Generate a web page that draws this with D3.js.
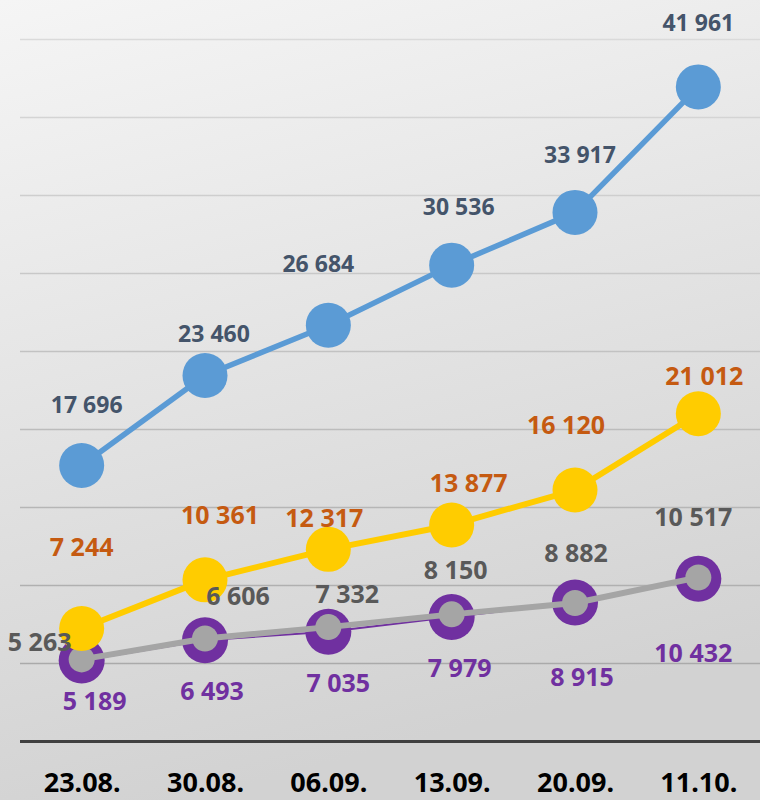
<!DOCTYPE html>
<html>
<head>
<meta charset="utf-8">
<script src="https://cdn.jsdelivr.net/npm/d3@7"></script>
<style>
  html, body { margin: 0; padding: 0; background: #e6e6e6; }
  svg { display: block; }
  text { font-family: "Noto Sans", "Open Sans", sans-serif; font-weight: 700; }
</style>
</head>
<body>
<svg id="chart"></svg>
<script>
/* chart data */
const dates = ["23.08.", "30.08.", "06.09.", "13.09.", "20.09.", "11.10."];
const blueValues   = [17696, 23460, 26684, 30536, 33917, 41961];
const yellowValues = [7244, 10361, 12317, 13877, 16120, 21012];
const grayValues   = [5263, 6606, 7332, 8150, 8882, 10517];
const purpleValues = [5189, 6493, 7035, 7979, 8915, 10432];
const gridTicks = [5000, 10000, 15000, 20000, 25000, 30000, 35000, 40000, 45000];

/* hand placed label offsets (label centre relative to marker), like in the original */
const blueNudge   = [[5,-61],[9,-42],[-10,-61],[7,-58],[5,-58],[0,-64]];
const yellowNudge = [[0,-81],[15,-65],[-4,-31],[17,-42],[-9,-65],[6,-38]];
const grayNudge   = [[-42,-17],[33,-42],[19,-33],[4,-44],[1,-50],[-5,-60]];
const purpleNudge = [[13,41],[7,51],[10,51],[8,51],[7,75],[-5,74]];

const width = 760, height = 800;
const plotLeft = 20, plotRight = 760, plotTop = 39.5, plotBottom = 741.5;

const svg = d3.select("#chart").attr("width", width).attr("height", height);
const defs = svg.append("defs");

/*background gradient*/
const bg = defs.append("linearGradient").attr("id", "bg")
    .attr("x1", 0).attr("y1", 0).attr("x2", 0.25).attr("y2", 1);
bg.append("stop").attr("offset", "0%").attr("stop-color", "#f5f5f5");
bg.append("stop").attr("offset", "100%").attr("stop-color", "#d2d2d2");

/*gridlines get darker towards the bottom*/
const gg = defs.append("linearGradient").attr("id", "grid")
    .attr("gradientUnits", "userSpaceOnUse")
    .attr("x1", 0).attr("y1", plotTop).attr("x2", 0).attr("y2", plotBottom);
gg.append("stop").attr("offset", "0%").attr("stop-color", "#dadada");
gg.append("stop").attr("offset", "100%").attr("stop-color", "#a4a4a4");

svg.append("rect").attr("width", width).attr("height", height).attr("fill", "url(#bg)");

const x = d3.scalePoint().domain(dates).range([plotLeft, plotRight]).padding(0.5);
const y = d3.scaleLinear().domain([0, 45000]).range([plotBottom, plotTop]);

/*gridlines*/
svg.append("g").selectAll("line")
    .data(gridTicks)
    .enter()
    .append("line")
    .attr("x1", plotLeft).attr("x2", plotRight)
    .attr("y1", d => y(d)).attr("y2", d => y(d))
    .attr("stroke", "url(#grid)")
    .attr("stroke-width", 1.5);

/*x axis*/
const xAxis = svg.append("g")
    .attr("transform", "translate(0," + y(0) + ")")
    .call(d3.axisBottom(x).tickSize(0).tickPadding(0));
xAxis.select(".domain").attr("d", "M" + plotLeft + ",0H" + plotRight)
    .attr("stroke", "#404040").attr("stroke-width", 3);
xAxis.selectAll("text")
    .attr("dy", null)
    .attr("y", 50)
    .style("font-size", "27px")
    .style("font-family", "'Noto Sans', sans-serif")
    .style("font-weight", 700)
    .attr("fill", "#000");

const line = d3.line().x((d, i) => x(dates[i])).y(d => y(d));

function drawSeries(values, color, lineWidth, r) {
    const g = svg.append("g");
    g.append("path")
        .datum(values)
        .attr("d", line)
        .attr("fill", "none")
        .attr("stroke", color)
        .attr("stroke-width", lineWidth)
        .attr("stroke-linejoin", "round");
    g.selectAll("circle")
        .data(values)
        .enter()
        .append("circle")
        .attr("cx", (d, i) => x(dates[i]))
        .attr("cy", d => y(d))
        .attr("r", r)
        .attr("fill", color);
}

drawSeries(blueValues, "#5b9bd5", 5.5, 22.5);
drawSeries(purpleValues, "#7030a0", 2, 23);
drawSeries(grayValues, "#a5a5a5", 6, 13);
drawSeries(yellowValues, "#ffcc00", 6, 22.5);

const fmt = v => d3.format(",")(v).replace(",", " ");

function drawLabels(values, nudge, color, size) {
    svg.append("g").selectAll("text")
        .data(values)
        .enter()
        .append("text")
        .attr("x", (d, i) => x(dates[i]) + nudge[i][0])
        .attr("y", (d, i) => y(d) + nudge[i][1] + size * 0.357)
        .attr("text-anchor", "middle")
        .style("font-size", size + "px")
        .attr("fill", color)
        .text(d => fmt(d));
}

drawLabels(blueValues, blueNudge, "#44546a", 23);
drawLabels(yellowValues, yellowNudge, "#c55a11", 25);
drawLabels(grayValues, grayNudge, "#595959", 25);
drawLabels(purpleValues, purpleNudge, "#7030a0", 25);
</script>
</body>
</html>
